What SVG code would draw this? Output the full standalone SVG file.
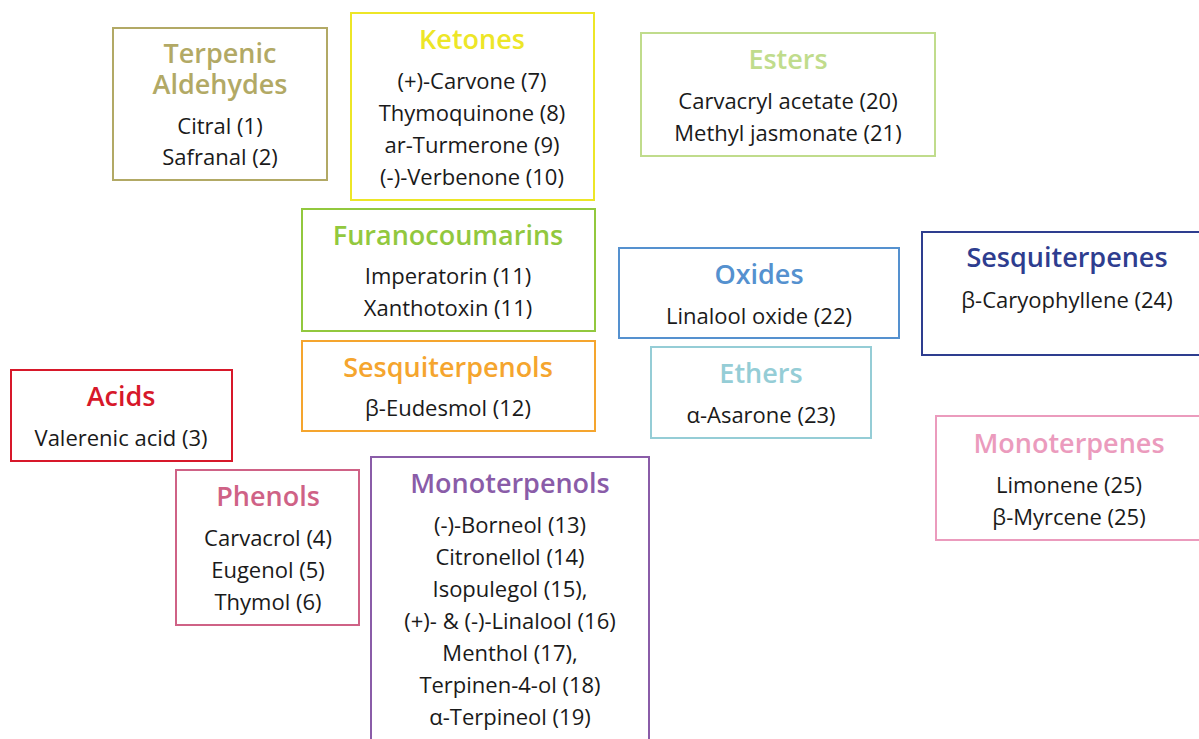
<svg xmlns="http://www.w3.org/2000/svg" width="1199" height="739" viewBox="0 0 1199 739">
<style>
rect{fill:#fff;stroke-width:2}
text{font-family:"Open Sans","Noto Sans",sans-serif;text-anchor:middle}
.t{font-size:27px;font-weight:600}
.i{font-size:22px;fill:#1a1a1a}
</style>
<rect x="0" y="0" width="1199" height="739" style="stroke:none"/>
<g id="connectors"></g>
<g id="terpenic-aldehydes">
<rect x="113" y="28" width="214" height="152" stroke="#b2a965"/>
<text class="t" x="220" y="63" fill="#b2a965">Terpenic</text>
<text class="t" x="220" y="94" fill="#b2a965">Aldehydes</text>
<text class="i" x="220" y="134">Citral (1)</text>
<text class="i" x="220" y="165">Safranal (2)</text>
</g>
<g id="ketones">
<rect x="351" y="13" width="243" height="187" stroke="#ede627"/>
<text class="t" x="472" y="49" fill="#ede627">Ketones</text>
<text class="i" x="472" y="89">(+)-Carvone (7)</text>
<text class="i" x="472" y="121">Thymoquinone (8)</text>
<text class="i" x="472" y="153">ar-Turmerone (9)</text>
<text class="i" x="472" y="185">(-)-Verbenone (10)</text>
</g>
<g id="esters">
<rect x="641" y="33" width="294" height="123" stroke="#c0dc8c"/>
<text class="t" x="788" y="69" fill="#c0dc8c">Esters</text>
<text class="i" x="788" y="109">Carvacryl acetate (20)</text>
<text class="i" x="788" y="141">Methyl jasmonate (21)</text>
</g>
<g id="furanocoumarins">
<rect x="302" y="209" width="293" height="122" stroke="#92c83e"/>
<text class="t" x="448" y="245" fill="#92c83e">Furanocoumarins</text>
<text class="i" x="448" y="284">Imperatorin (11)</text>
<text class="i" x="448" y="316">Xanthotoxin (11)</text>
</g>
<g id="sesquiterpenols">
<rect x="302" y="341" width="293" height="90" stroke="#f5a52e"/>
<text class="t" x="448" y="377" fill="#f5a52e">Sesquiterpenols</text>
<text class="i" x="448" y="416">β-Eudesmol (12)</text>
</g>
<g id="oxides">
<rect x="619" y="248" width="280" height="90" stroke="#5591cf"/>
<text class="t" x="759" y="284" fill="#5591cf">Oxides</text>
<text class="i" x="759" y="324">Linalool oxide (22)</text>
</g>
<g id="ethers">
<rect x="651" y="347" width="220" height="91" stroke="#95cdd6"/>
<text class="t" x="761" y="383" fill="#95cdd6">Ethers</text>
<text class="i" x="761" y="423">α-Asarone (23)</text>
</g>
<g id="sesquiterpenes">
<rect x="922" y="232" width="290" height="123" stroke="#2e3d8f"/>
<text class="t" x="1067" y="267" fill="#2e3d8f">Sesquiterpenes</text>
<text class="i" x="1067" y="308">β-Caryophyllene (24)</text>
</g>
<g id="monoterpenes">
<rect x="936" y="416" width="280" height="124" stroke="#eb9bbd"/>
<text class="t" x="1069" y="453" fill="#eb9bbd">Monoterpenes</text>
<text class="i" x="1069" y="493">Limonene (25)</text>
<text class="i" x="1069" y="525">β-Myrcene (25)</text>
</g>
<g id="acids">
<rect x="11" y="370" width="221" height="91" stroke="#d7182a"/>
<text class="t" x="121" y="406" fill="#d7182a">Acids</text>
<text class="i" x="121" y="446">Valerenic acid (3)</text>
</g>
<g id="phenols">
<rect x="176" y="470" width="183" height="155" stroke="#cf6286"/>
<text class="t" x="268" y="506" fill="#cf6286">Phenols</text>
<text class="i" x="268" y="546">Carvacrol (4)</text>
<text class="i" x="268" y="578">Eugenol (5)</text>
<text class="i" x="268" y="610">Thymol (6)</text>
</g>
<g id="monoterpenols">
<rect x="371" y="457" width="278" height="300" stroke="#8a5ca8"/>
<text class="t" x="510" y="493" fill="#8a5ca8">Monoterpenols</text>
<text class="i" x="510" y="533">(-)-Borneol (13)</text>
<text class="i" x="510" y="565">Citronellol (14)</text>
<text class="i" x="510" y="597">Isopulegol (15),</text>
<text class="i" x="510" y="629">(+)- &amp; (-)-Linalool (16)</text>
<text class="i" x="510" y="661">Menthol (17),</text>
<text class="i" x="510" y="693">Terpinen-4-ol (18)</text>
<text class="i" x="510" y="725">α-Terpineol (19)</text>
</g>
</svg>
